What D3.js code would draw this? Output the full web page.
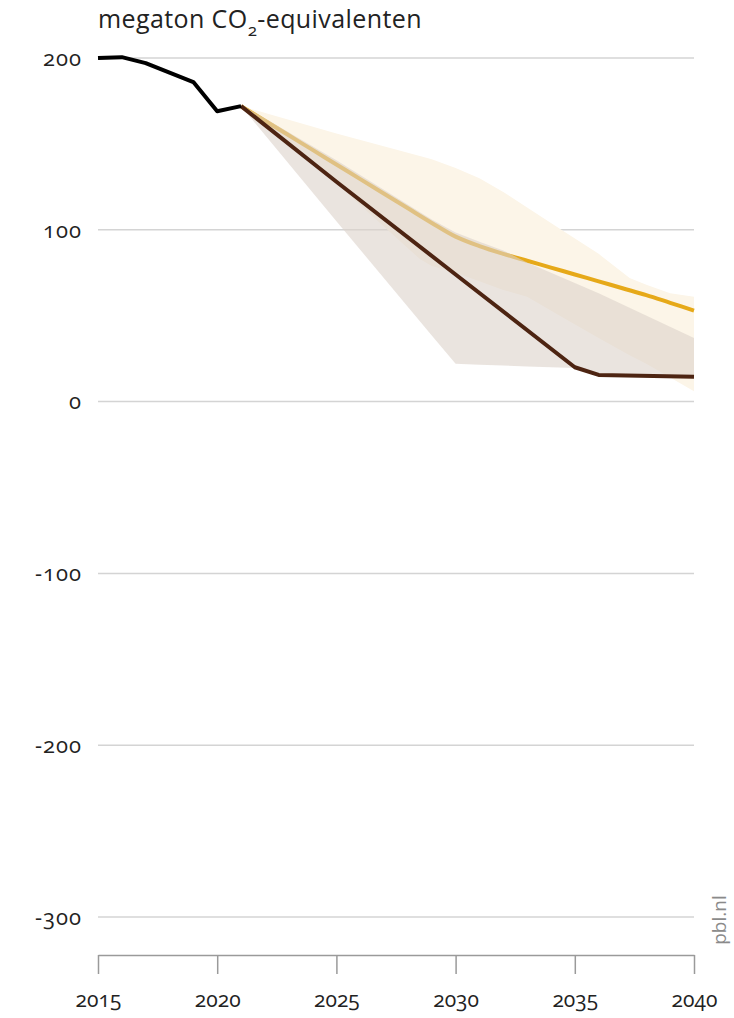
<!DOCTYPE html>
<html lang="nl">
<head>
<meta charset="utf-8">
<title>megaton CO2-equivalenten</title>
<script src="https://cdn.jsdelivr.net/npm/d3@7"></script>
<style>
	body { margin: 0; background: white; }
	svg { display: block; }
	text { font-family: "Open Sans", sans-serif; fill: #222; font-variant-numeric: oldstyle-nums; }
	.grid line { stroke: #d4d4d4; stroke-width: 1.5; }
	.zero { stroke: #9a9a9a; stroke-width: 1.5; }
</style>
</head>
<body>
<svg id="chart" width="734" height="1018"></svg>
<script>
// historical emissions
var histYears = [2015, 2016, 2017, 2018, 2019, 2020, 2021]
var histValues = [200, 200.5, 197, 191.5, 186, 169, 172]

// projection lines
var projYears = [2021, 2022, 2023, 2024, 2025, 2026, 2027, 2028, 2029, 2030, 2031, 2032, 2033, 2034, 2035, 2036, 2037, 2038, 2039, 2040]
var yellowValues = [172, 163.5, 155, 146.5, 138, 129.5, 121, 112.5, 104, 96, 90.5, 86, 82, 78, 74, 70, 66, 62, 57.5, 53]
var darkYears = [2021, 2025, 2030, 2035, 2036, 2040]
var darkValues = [172, 128, 74, 20, 15.5, 14.5]

// light (cream) band
var lightYears = [2021, 2025, 2028.5, 2029, 2030, 2031, 2032, 2033, 2034.5, 2036, 2037.3, 2038, 2039, 2040]
var lightUpper = [172, 156, 143, 141, 136, 130, 122, 113, 99.5, 86, 72, 68, 63, 61]
var lightLower = [172, 127, 83, 79, 75, 70, 65, 61, 49, 37, 27, 22, 14, 6]

// darker band
var bandYears = [2021, 2025, 2029, 2030, 2031, 2032, 2033, 2035, 2036, 2040]
var bandUpper = [173, 140.5, 106, 98.5, 93, 88, 81, 69, 63, 37]
var bandLower = [172, 105, 38.5, 22, 21.5, 21, 20.5, 19.5, 15, 14]

var yTicks = [-300, -200, -100, 0, 100, 200]
var xTicks = [2015, 2020, 2025, 2030, 2035, 2040]

var svg = d3.select("#chart")
var x = d3.scaleLinear().domain([2015, 2040]).range([98, 694])
var y = d3.scaleLinear().domain([-300, 200]).range([917, 58])

// gridlines
var grid = svg.append("g").attr("class", "grid")
grid.selectAll("line").data(yTicks).enter().append("line")
	.attr("x1", x(2015)).attr("x2", x(2040))
	.attr("y1", function(d) { return y(d) }).attr("y2", function(d) { return y(d) })
	.attr("class", function(d) { return d == 0 ? "zero" : null })

svg.append("g").selectAll("text").data(yTicks).enter().append("text")
	.attr("x", 82).attr("y", function(d) { return y(d) })
	.attr("dy", "0.35em").attr("text-anchor", "end")
	.style("font-size", "22px").style("letter-spacing", "1px")
	.text(function(d) { return d })

function band(years, hi, lo) {
	return d3.area()
		.x(function(d, i) { return x(years[i]) })
		.y0(function(d, i) { return y(lo[i]) })
		.y1(function(d, i) { return y(hi[i]) })(years)
}
function line(years, vals) {
	return d3.line()
		.x(function(d, i) { return x(years[i]) })
		.y(function(d, i) { return y(vals[i]) })
		.curve(d3.curveMonotoneX)(years)
}

svg.append("path").attr("d", band(lightYears, lightUpper, lightLower))
	.attr("fill", "#fcf5e8")
svg.append("path").attr("d", line(projYears, yellowValues))
	.attr("fill", "none").attr("stroke", "#e6a919").attr("stroke-width", 4)
svg.append("path").attr("d", band(bandYears, bandUpper, bandLower))
	.attr("fill", "#dcd2ca").attr("fill-opacity", 0.6)
svg.append("path").attr("d", d3.line()
		.x(function(d, i) { return x(darkYears[i]) })
		.y(function(d, i) { return y(darkValues[i]) })(darkYears))
	.attr("fill", "none").attr("stroke", "#4d2412").attr("stroke-width", 4)
	.attr("stroke-linejoin", "round")
svg.append("path").attr("d", d3.line()
		.x(function(d, i) { return x(histYears[i]) })
		.y(function(d, i) { return y(histValues[i]) })(histYears))
	.attr("fill", "none").attr("stroke", "#000").attr("stroke-width", 4)
	.attr("stroke-linejoin", "round")

// x axis
var xAxis = svg.append("g").attr("transform", "translate(0,955)")
	.call(d3.axisBottom(x).tickValues(xTicks).tickFormat(d3.format("d")).tickSize(19).tickSizeOuter(0))
xAxis.select(".domain").attr("stroke", "#9a9a9a").attr("stroke-width", 1.5)
xAxis.selectAll(".tick line").attr("stroke", "#9a9a9a").attr("stroke-width", 1.5)
xAxis.selectAll(".tick text").attr("y", 45).attr("dy", "0.35em")
	.style("font-size", "21px").attr("fill", "#222")
	.style("font-family", "\"Open Sans\", sans-serif")

// title
var title = svg.append("text").attr("x", 98).attr("y", 28).style("font-size", "25px")
	.style("letter-spacing", "0.4px")
title.append("tspan").text("megaton CO")
title.append("tspan").attr("dy", 8).style("font-size", "17px").text("2")
title.append("tspan").attr("dy", -8).text("-equivalenten")

svg.append("text").attr("transform", "translate(726,920) rotate(-90)")
	.attr("text-anchor", "middle").style("font-size", "19px").style("fill", "#8a8a8a")
	.text("pbl.nl")
</script>
</body>
</html>
